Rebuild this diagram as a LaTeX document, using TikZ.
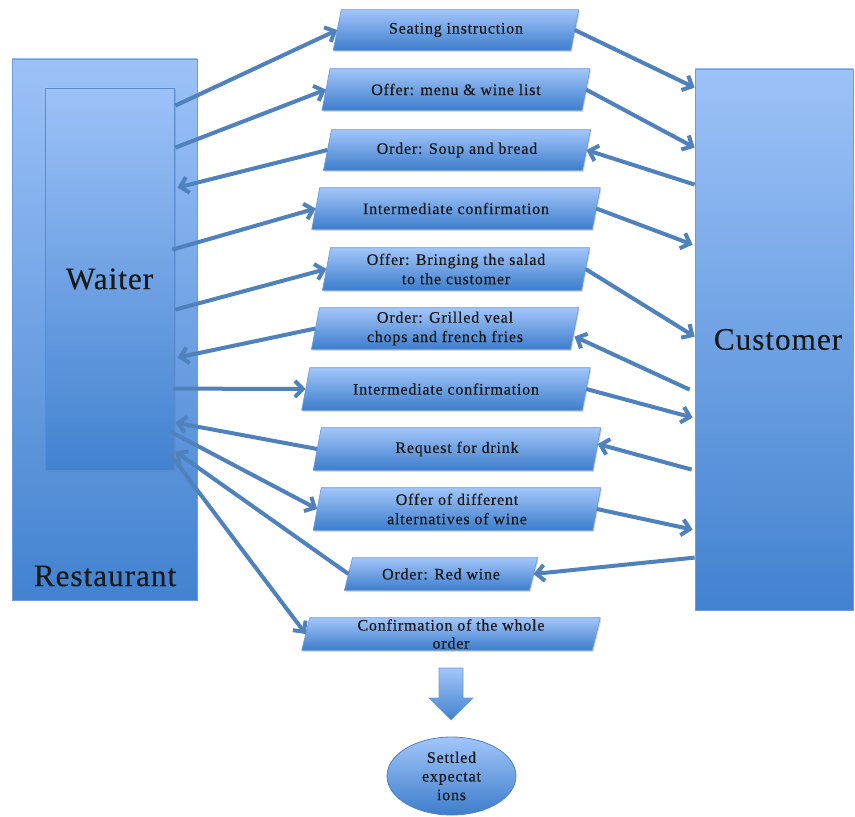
\documentclass[tikz,border=0pt]{standalone}
\usepackage{fontspec}
\setmainfont{Liberation Serif}
\newfontfamily\boxfont[LetterSpace=5,FakeBold=0.5]{Liberation Serif}
\newfontfamily\bigfont[LetterSpace=3,FakeBold=0.3]{Liberation Serif}
\usetikzlibrary{calc,backgrounds,shadows,arrows.meta,shapes.geometric}
\definecolor{lightblue}{HTML}{A2C6FA}
\definecolor{darkblue}{HTML}{3D7DCC}
\definecolor{restlight}{HTML}{9CC2F8}
\definecolor{restdark}{HTML}{4282D0}
\definecolor{arrowblue}{HTML}{4F81BD}
\definecolor{edgeblue}{HTML}{6E9BD8}
\definecolor{waiteredge}{HTML}{5A8AD0}
\definecolor{textcol}{HTML}{1A1A1A}
\begin{document}
\begin{tikzpicture}[x=0.75pt,y=-0.75pt,
  msgsize/.style 2 args={minimum width=#1*0.75pt, minimum height=#2*0.75pt},
  bigbox/.style={rectangle, draw=edgeblue, line width=0.6pt, top color=restlight, bottom color=restdark, inner sep=0pt},
  msg/.style={rectangle, inner sep=0pt, align=center, text=textcol, font=\boxfont\fontsize{12}{14.5}\selectfont},
  pshape/.style={draw=edgeblue, line width=0.5pt, top color=lightblue, bottom color=darkblue,
    drop shadow={shadow xshift=0.8pt, shadow yshift=-1.2pt, opacity=0.3}},
  flow/.style={draw=arrowblue, line width=3pt, -{Straight Barb[length=6pt,width=12pt]}},
  biglabel/.style={text=textcol, font=\bigfont\fontsize{23.5}{27}\selectfont}
]
\useasboundingbox (0,0) rectangle (855,816);

% large boxes
\node[bigbox, msgsize={185}{541}] (restaurant) at (104.5,329.5) {};
\node[bigbox, draw=waiteredge, msgsize={129}{382}, biglabel,
  drop shadow={shadow xshift=1.2pt, shadow yshift=-1.5pt, opacity=0.35}] (waiter) at (109.5,279) {Waiter};
\node[biglabel] (restlabel) at (105,576) {Restaurant};
\node[bigbox, msgsize={158}{541}, biglabel] (customer) at (774,339.5) {\hspace*{6pt}Customer};

% message boxes
\node[msg, msgsize={237}{40}]   (b1)  at (456,30)    {Seating instruction};
\node[msg, msgsize={259.5}{41}] (b2)  at (456,89.5)  {Offer: menu \& wine list};
\node[msg, msgsize={258.5}{40}] (b3)  at (457,150)   {Order: Soup and bread};
\node[msg, msgsize={280}{41}]   (b4)  at (456,208.5) {Intermediate confirmation};
\node[msg, msgsize={258.5}{42}] (b5)  at (456,269)   {Offer: Bringing the salad\\to the customer};
\node[msg, msgsize={258.5}{41}] (b6)  at (445,328.5) {Order: Grilled veal\\chops and french fries};
\node[msg, msgsize={280}{42}]   (b7)  at (446,389)   {Intermediate confirmation};
\node[msg, msgsize={279}{42}]   (b8)  at (457,449)   {Request for drink};
\node[msg, msgsize={279}{42}]   (b9)  at (457,509)   {Offer of different\\alternatives of wine};
\node[msg, msgsize={184.5}{32}] (b10) at (441,574)   {Order: Red wine};
\node[msg, msgsize={290}{32}, font=\boxfont\fontsize{12}{13.5}\selectfont] (b11) at (451,634) {Confirmation of the whole\\order};

\begin{scope}[on background layer]
\foreach \n in {b1,b2,b3,b4,b5,b6,b7,b8,b9,b10,b11}
  \path[pshape] ($(\n.south west)+(-4,0)$) -- ($(\n.south east)+(-4,0)$)
     -- ($(\n.north east)+(4,0)$) -- ($(\n.north west)+(4,0)$) -- cycle;
\end{scope}

% waiter side connectors
\draw[flow] ($(waiter.north east)+(1,18)$) -- (b1.west);
\draw[flow] ($(waiter.north east)+(1,60)$) -- (b2.west);
\draw[flow] (b3.west) -- ($(waiter.north east)+(3,100)$);
\draw[flow] ($(waiter.north east)+(-2,162)$) -- (b4.west);
\draw[flow] ($(waiter.north east)+(1,222)$) -- (b5.west);
\draw[flow] (b6.west) -- ($(waiter.north east)+(3,270)$);
\draw[flow] ($(waiter.north east)+(-1,301)$) -- (b7.west);
\draw[flow] (b8.west) -- ($(waiter.north east)+(1,335)$);
\draw[flow] ($(waiter.north east)+(-4,344)$) -- (b9.west);
\draw[flow] (b10.west) -- ($(waiter.north east)+(1,364)$);
\draw[flow] ($(waiter.north east)+(-4,367)$) -- (b11.west);

% customer side connectors
\draw[flow] (b1.east) -- ($(customer.north west)+(0,19)$);
\draw[flow] (b2.east) -- ($(customer.north west)+(0,79)$);
\draw[flow] ($(customer.north west)+(0,116)$) -- (b3.east);
\draw[flow] (b4.east) -- ($(customer.north west)+(-2,176)$);
\draw[flow] (b5.east) -- ($(customer.north west)+(0,268)$);
\draw[flow] ($(customer.north west)+(-5,321)$) -- ($(b6.east)+(0,8)$);
\draw[flow] (b7.east) -- ($(customer.north west)+(-2,349)$);
\draw[flow] ($(customer.north west)+(-3,401)$) -- ($(b8.east)+(1,-5)$);
\draw[flow] (b9.east) -- ($(customer.north west)+(-2,461)$);
\draw[flow] ($(customer.north west)+(0,489)$) -- (b10.east);

% block arrow and result
\path[draw=edgeblue, line width=0.5pt, top color=lightblue, bottom color=restdark]
  (439,668) -- (463,668) -- (463,698) -- (473,698) -- (451,720) -- (429,698) -- (439,698) -- cycle;
\node[ellipse, inner sep=0pt, msgsize={129}{78}, draw=arrowblue, line width=0.6pt,
  top color=lightblue, bottom color=darkblue, align=center, text=textcol,
  font=\boxfont\fontsize{12}{14}\selectfont] (settled) at (451.5,776) {Settled\\expectat\\ions};
\end{tikzpicture}
\end{document}
